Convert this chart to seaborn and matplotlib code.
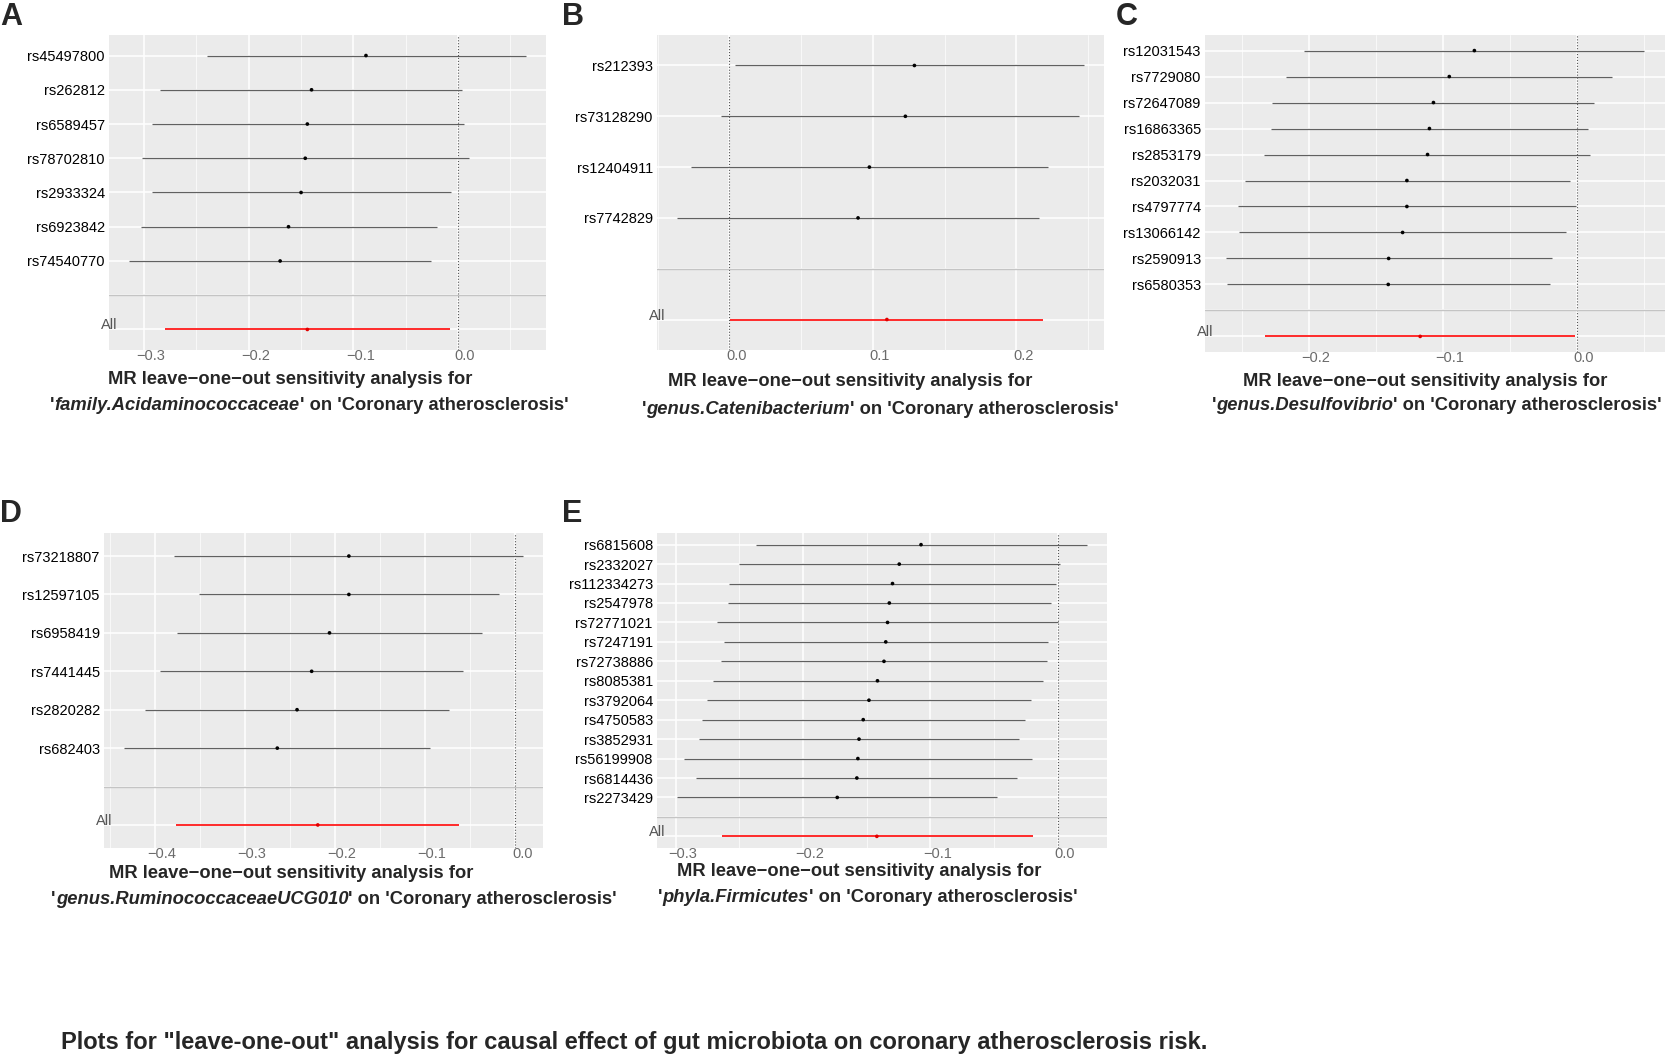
import matplotlib
matplotlib.use("Agg")
import matplotlib.pyplot as plt
import matplotlib.transforms as mtransforms
from matplotlib.ticker import FixedLocator, MultipleLocator
import pandas as pd
import seaborn as sns

W_PX, H_PX = 1673, 1057

# ---- panel A: family.Acidaminococcaceae
a_snps = ["rs45497800", "rs262812", "rs6589457", "rs78702810", "rs2933324", "rs6923842", "rs74540770"]
a_b = [-0.088, -0.140, -0.144, -0.146, -0.150, -0.162, -0.170]
a_lo = [-0.240, -0.285, -0.292, -0.3015, -0.292, -0.303, -0.3145]
a_hi = [0.065, 0.004, 0.0055, 0.010, -0.007, -0.020, -0.026]
a_all = [-0.144, -0.280, -0.0075]
a_ticks = [-0.3, -0.2, -0.1, 0.0]

# ---- panel B: genus.Catenibacterium
b_snps = ["rs212393", "rs73128290", "rs12404911", "rs7742829"]
b_b = [0.129, 0.1227, 0.0976, 0.0897]
b_lo = [0.0038, -0.0056, -0.0267, -0.0363]
b_hi = [0.247, 0.244, 0.222, 0.216]
b_all = [0.1098, 0.0003, 0.2188]
b_ticks = [0.0, 0.1, 0.2]

# ---- panel C: genus.Desulfovibrio
c_snps = ["rs12031543", "rs7729080", "rs72647089", "rs16863365", "rs2853179",
          "rs2032031", "rs4797774", "rs13066142", "rs2590913", "rs6580353"]
c_b = [-0.0765, -0.0952, -0.107, -0.110, -0.1114, -0.1268, -0.1268, -0.130, -0.1404, -0.1407]
c_lo = [-0.2033, -0.2169, -0.227, -0.2283, -0.233, -0.2476, -0.2527, -0.2518, -0.2617, -0.2611]
c_hi = [0.050, 0.0259, 0.013, 0.0084, 0.010, -0.0054, -0.0009, -0.0081, -0.0187, -0.0199]
c_all = [-0.1169, -0.2325, -0.0012]
c_ticks = [-0.2, -0.1, 0.0]

# ---- panel D: genus.RuminococcaceaeUCG010
d_snps = ["rs73218807", "rs12597105", "rs6958419", "rs7441445", "rs2820282", "rs682403"]
d_b = [-0.1845, -0.1845, -0.206, -0.2258, -0.242, -0.2639]
d_lo = [-0.378, -0.351, -0.375, -0.3944, -0.411, -0.434]
d_hi = [0.0087, -0.018, -0.0365, -0.0575, -0.073, -0.0944]
d_all = [-0.219, -0.3758, -0.0623]
d_ticks = [-0.4, -0.3, -0.2, -0.1, 0.0]

# ---- panel E: phyla.Firmicutes
e_snps = ["rs6815608", "rs2332027", "rs112334273", "rs2547978", "rs72771021", "rs7247191",
          "rs72738886", "rs8085381", "rs3792064", "rs4750583", "rs3852931", "rs56199908",
          "rs6814436", "rs2273429"]
e_b = [-0.1073, -0.1244, -0.1297, -0.1322, -0.1336, -0.135, -0.1364, -0.1415, -0.1482,
       -0.1527, -0.156, -0.1569, -0.1577, -0.1731]
e_lo = [-0.2373, -0.250, -0.2583, -0.2591, -0.2672, -0.2622, -0.2641, -0.2709, -0.2754,
        -0.2793, -0.2818, -0.2936, -0.284, -0.2986]
e_hi = [0.0227, 0.0017, -0.0014, -0.0056, 0.0, -0.0076, -0.0084, -0.0118, -0.021,
        -0.026, -0.030, -0.0204, -0.0319, -0.0476]
e_all = [-0.142, -0.2639, -0.0196]
e_ticks = [-0.3, -0.2, -0.1, 0.0]

OUTCOME = "Coronary atherosclerosis"
LINE1 = "MR leave\u2212one\u2212out sensitivity analysis for"
CAPTION = ('Plots for "leave-one-out" analysis for causal effect of gut microbiota '
           'on coronary atherosclerosis risk.')

sns.set_theme(style="darkgrid", rc={"axes.facecolor": "#EBEBEB", "grid.color": "white"})
plt.rcParams["font.family"] = ["Liberation Sans", "DejaVu Sans"]

fig = plt.figure(figsize=(W_PX / 100, H_PX / 100), dpi=100)
fig.patch.set_facecolor("white")


def px_ax(x0, y0, x1, y1):
    return fig.add_axes([x0 / W_PX, 1 - y1 / H_PX, (x1 - x0) / W_PX, (y1 - y0) / H_PX])


def draw_panel(ax, snps, b, lo, hi, all_vals, ticks):
    n = len(snps)
    df = pd.DataFrame({
        "SNP": snps + ["All"],
        "b": b + [all_vals[0]],
        "lo": lo + [all_vals[1]],
        "hi": hi + [all_vals[2]],
        "grp": ["snp"] * n + ["all"],
    })
    df["pos"] = list(range(n + 2, 2, -1)) + [1]

    snp_rows = df[df.grp == "snp"]
    all_rows = df[df.grp == "all"]
    ax.hlines(snp_rows.pos, snp_rows.lo, snp_rows.hi, color="#606060", lw=0.9, zorder=3)
    ax.hlines(all_rows.pos, all_rows.lo, all_rows.hi, color="#ff1a1a", lw=1.3, zorder=3)
    sns.scatterplot(data=df, x="b", y="pos", hue="grp", palette={"snp": "black", "all": "#e00000"},
                    s=7, linewidth=0, legend=False, ax=ax, zorder=4)
    ax.axvline(0, ls=":", color="#555555", lw=0.8, zorder=2)
    ax.axhline(2, color="#c4c4c4", lw=1.0, zorder=2)

    xmin, xmax = df.lo.min(), df.hi.max()
    pad = 0.05 * (xmax - xmin)
    ax.set_xlim(xmin - pad, xmax + pad)
    ax.set_ylim(0.4, n + 2.6)

    ax.yaxis.set_major_locator(FixedLocator(list(range(1, n + 3))))
    ax.set_yticklabels(["", ""] + snps[::-1])
    ax.xaxis.set_major_locator(FixedLocator(ticks))
    ax.set_xticklabels([f"{t:.1f}".replace("-", "\u2212") for t in ticks])
    ax.xaxis.set_minor_locator(MultipleLocator(0.05))
    ax.grid(which="major", color="white", lw=1.1)
    ax.grid(which="minor", axis="x", color="white", lw=0.5)
    ax.tick_params(axis="y", length=0, pad=3, labelsize=10.5, labelcolor="black")
    ax.tick_params(axis="x", which="both", length=0, pad=-1, labelsize=10.5, labelcolor="#6b6b6b")
    shift = mtransforms.ScaledTranslation(7 / 100, 0, fig.dpi_scale_trans)
    for lbl in ax.get_xticklabels():
        lbl.set_transform(lbl.get_transform() + shift)
    ax.set_xlabel("")
    ax.set_ylabel("")
    for sp in ax.spines.values():
        sp.set_visible(False)

    trans = mtransforms.blended_transform_factory(ax.transAxes, ax.transData)
    ax.text(0.0, 1, "All", transform=trans + mtransforms.ScaledTranslation(0, 4 / 100, fig.dpi_scale_trans),
            ha="center", va="center", fontsize=10.5, color="#555555")


def title_lines(xc1, xc2, y1, y2, name, size=13.2):
    t1 = fig.text(xc1 / W_PX, 1 - y1 / H_PX, LINE1, fontsize=size, fontweight="bold",
                  ha="center", va="center")
    renderer = fig.canvas.get_renderer()
    parts = [("'", "normal"), (name, "italic"), (f"' on '{OUTCOME}'", "normal")]
    texts = [fig.text(0, 1 - y2 / H_PX, s, fontsize=size, fontweight="bold", style=st,
                      ha="left", va="center") for s, st in parts]
    widths = [t.get_window_extent(renderer).width for t in texts]
    x = xc2 - sum(widths) / 2
    for t, w in zip(texts, widths):
        t.set_x(x / W_PX)
        x += w
    return t1


panels = [
    ("A", (109, 35, 546, 350), (11, 17), a_snps, a_b, a_lo, a_hi, a_all, a_ticks,
     "family.Acidaminococcaceae", (290, 309, 379, 406)),
    ("B", (657, 35, 1104, 350), (573, 17), b_snps, b_b, b_lo, b_hi, b_all, b_ticks,
     "genus.Catenibacterium", (850, 880, 381, 409)),
    ("C", (1205, 35, 1665, 352), (1127, 17), c_snps, c_b, c_lo, c_hi, c_all, c_ticks,
     "genus.Desulfovibrio", (1425, 1437, 381, 406)),
    ("D", (104, 533, 543, 848), (11, 514), d_snps, d_b, d_lo, d_hi, d_all, d_ticks,
     "genus.RuminococcaceaeUCG010", (291, 334, 873, 900)),
    ("E", (657, 533, 1107, 848), (572, 514), e_snps, e_b, e_lo, e_hi, e_all, e_ticks,
     "phyla.Firmicutes", (859, 868, 871, 898)),
]

for letter, box, lpos, snps, b, lo, hi, allv, ticks, name, tpos in panels:
    ax = px_ax(*box)
    draw_panel(ax, snps, b, lo, hi, allv, ticks)
    fig.text(lpos[0] / W_PX, 1 - lpos[1] / H_PX, letter, fontsize=22, fontweight="bold",
             ha="center", va="center")
    title_lines(tpos[0], tpos[1], tpos[2], tpos[3], name)

fig.text(61 / W_PX, 1 - 1042 / H_PX, CAPTION, fontsize=17, fontweight="bold",
         ha="left", va="center")

fig.savefig("out.png", dpi=100)
